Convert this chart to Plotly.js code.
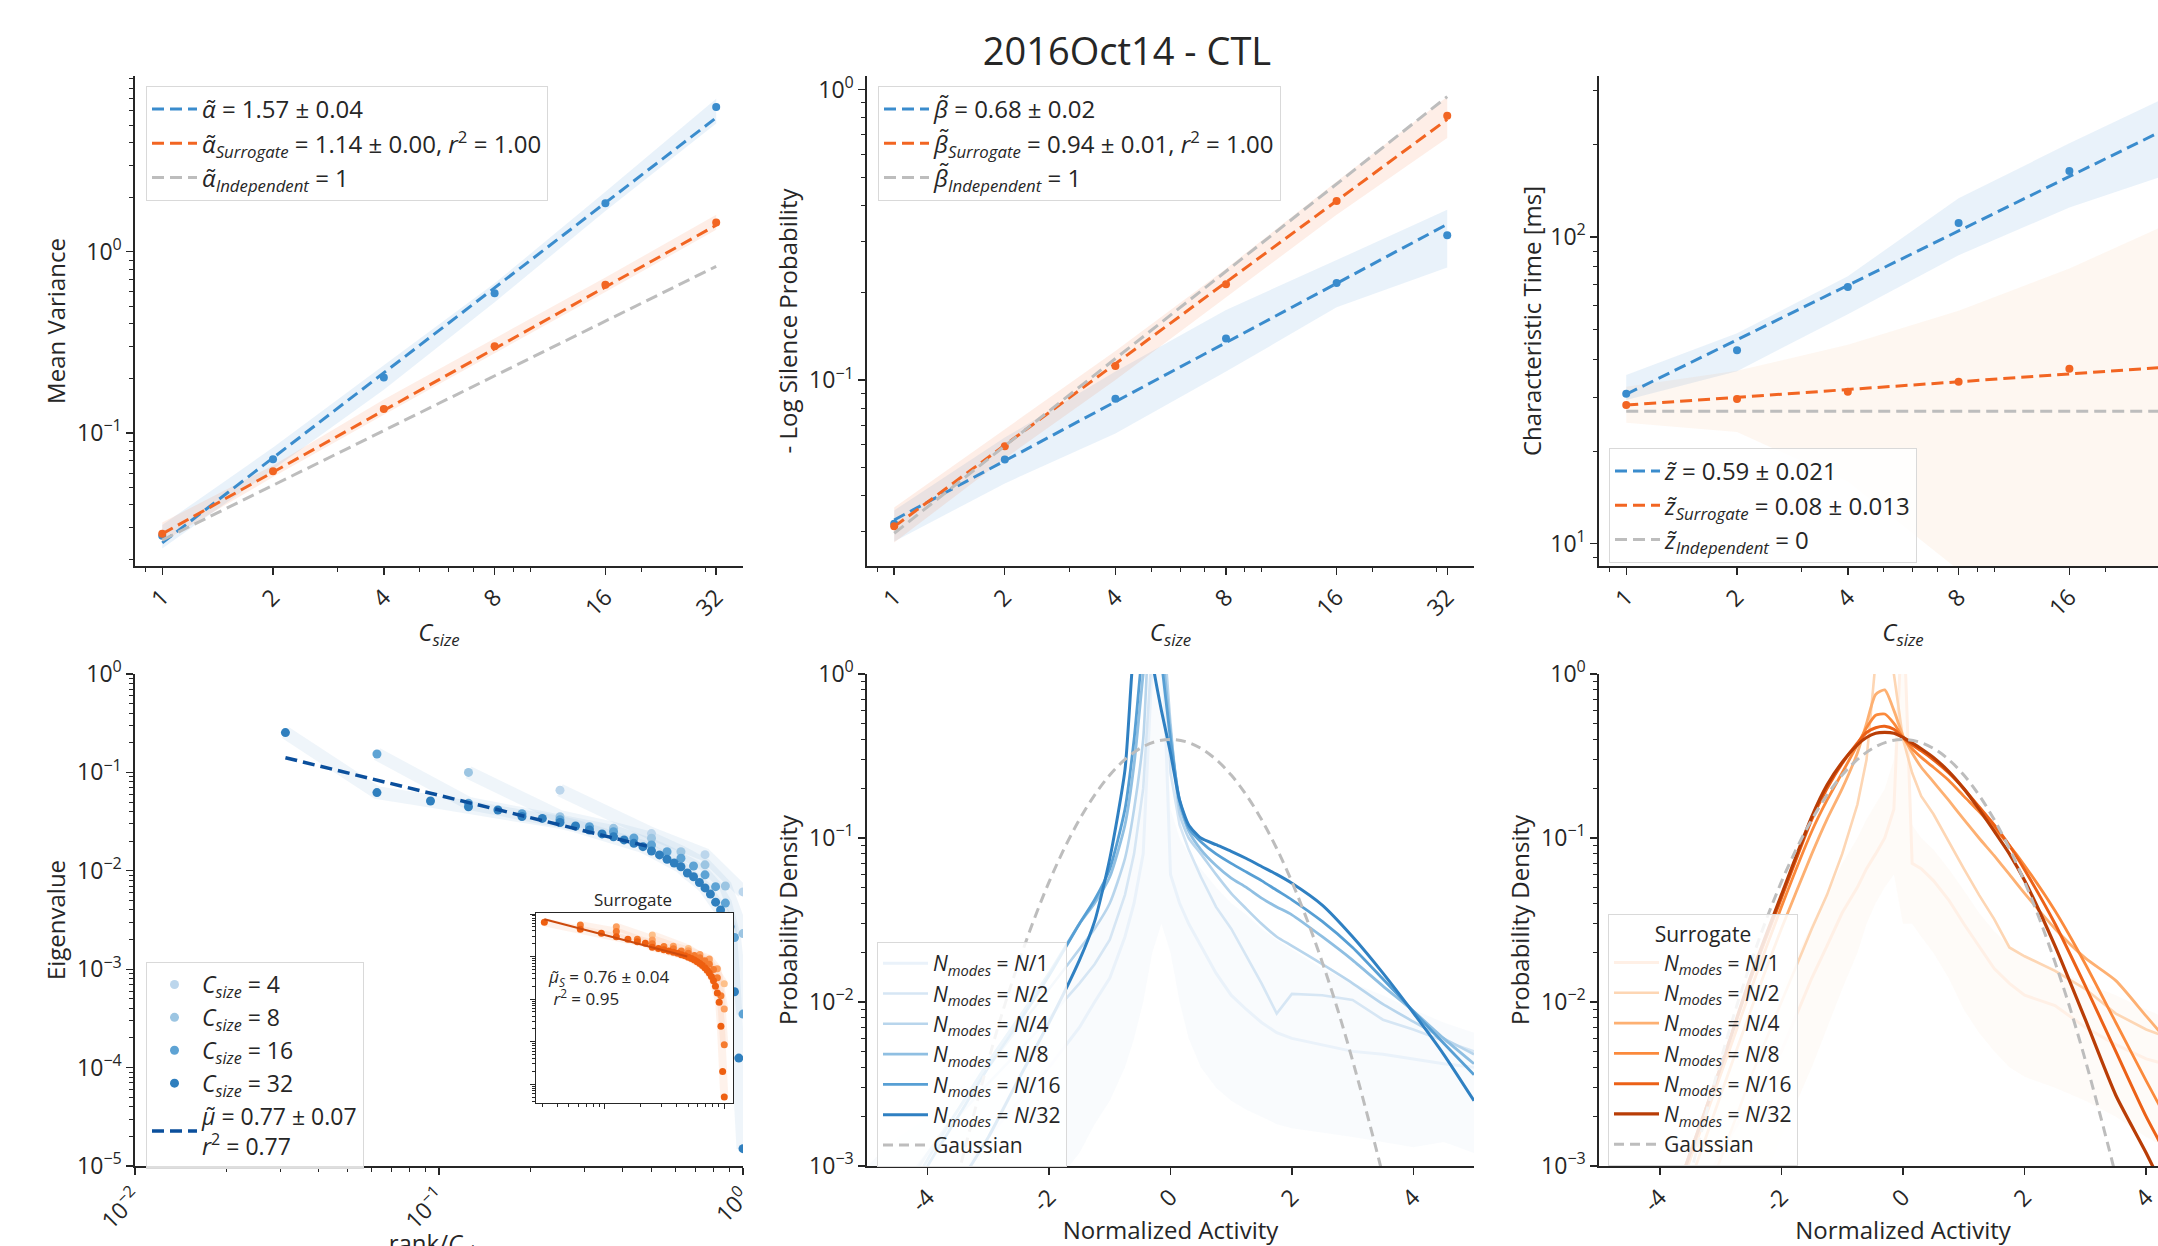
<!DOCTYPE html>
<html>
<head>
<meta charset="utf-8">
<script src="https://cdn.plot.ly/plotly-3.0.1.min.js"></script>
<style>
html,body{margin:0;padding:0;overflow:hidden;background:#fff;}
#chart{width:2210px;height:1262px;}
</style>
</head>
<body>
<div id="chart"></div>
<script>
// ---------------- DATA ----------------
const CSIZE = [1, 2, 4, 8, 16, 32];
const FIT_X = [1, 32];

// Panel 1 : mean variance
const varExp   = [0.027, 0.0716, 0.202, 0.590, 1.85, 6.29];
const varExpLo = [0.023, 0.0627, 0.173, 0.526, 1.68, 5.10];
const varExpHi = [0.031, 0.083, 0.236, 0.669, 2.14, 6.98];
const varSur   = [0.0277, 0.0614, 0.1356, 0.301, 0.657, 1.45];
const varSurLo = [0.025, 0.057, 0.126, 0.274, 0.600, 1.32];
const varSurHi = [0.032, 0.066, 0.153, 0.332, 0.720, 1.60];
const varFitExp = [0.0247, 5.49];
const varFitSur = [0.0277, 1.40];
const varFitInd = [0.0256, 0.83];

// Panel 2 : - log silence probability
const silExp   = [0.032, 0.0533, 0.0863, 0.139, 0.216, 0.315];
const silExpLo = [0.0278, 0.0441, 0.0655, 0.107, 0.178, 0.244];
const silExpHi = [0.0356, 0.0634, 0.107, 0.1745, 0.259, 0.386];
const silSur   = [0.0314, 0.0592, 0.1118, 0.214, 0.414, 0.813];
const silSurLo = [0.0276, 0.0537, 0.100, 0.193, 0.371, 0.681];
const silSurHi = [0.0364, 0.0676, 0.126, 0.242, 0.483, 0.946];
const silFitExp = [0.033, 0.344];
const silFitSur = [0.0313, 0.79];
const silFitInd = [0.0297, 0.946];

// Panel 3 : characteristic time [ms]
const tauExp   = [30.8, 42.7, 68.7, 111, 164, 245];
const tauExpLo = [29.4, 36.5, 56, 87.2, 124.7, 165];
const tauExpHi = [35.5, 48.5, 74.5, 133.8, 202, 300];
const tauSur   = [28.3, 29.6, 31.3, 33.7, 37.2, 38.5];
const tauSurLo = [24.8, 23.1, 15.9, 8.2, 0.01, 0.01];
const tauSurHi = [32.5, 36.6, 44.5, 57.5, 78.9, 115];
const tauFitExp = [30.7, 237];
const tauFitSur = [28.3, 37.9];
const tauFitInd = [27.0, 27.0];

// Panel 4 : eigenvalue spectra (index i -> rank i+1)
const eig4  = [0.066, 0.0239, 0.0146, 0.0061];
const eig8  = [0.1, 0.0355, 0.027, 0.0214, 0.0156, 0.0115, 0.0070, 0.0023];
const eig16 = [0.154, 0.0485, 0.038, 0.033, 0.028, 0.025, 0.0216, 0.0183, 0.0156, 0.0134, 0.0112, 0.0091, 0.0069, 0.0047, 0.0021, 0.00035];
const eig32 = [0.254, 0.0623, 0.0512, 0.0447, 0.0415, 0.0356, 0.0341, 0.031, 0.0285, 0.026, 0.0237, 0.0222, 0.0206, 0.019, 0.0176, 0.0159,
               0.0145, 0.0131, 0.012, 0.011, 0.0095, 0.0087, 0.0076, 0.0067, 0.0058, 0.0048, 0.004, 0.0034, 0.0027, 0.00059, 0.000125, 0.000015];
const eigFitX = [0.03125, 0.49];
const eigFitY = [0.141, 0.0176];

// Inset : surrogate eigenvalue spectra
const sur4  = [0.0322, 0.0155, 0.0076, 0.0023];
const sur8  = [0.050, 0.0246, 0.0175, 0.0138, 0.0112, 0.0088, 0.0052, 0.00059];
const sur16 = [0.055, 0.0386, 0.0255, 0.0200, 0.0172, 0.0152, 0.0135, 0.0120, 0.0106, 0.0094, 0.0080, 0.0066, 0.0050, 0.0032, 0.0012, 0.000085];
const sur32 = [0.064, 0.0438, 0.0352, 0.0294, 0.0255, 0.0224, 0.0205, 0.0166, 0.0155, 0.0145, 0.0136, 0.0127, 0.0119, 0.0111, 0.0104, 0.0097,
               0.0090, 0.0083, 0.0076, 0.0069, 0.0062, 0.0055, 0.0048, 0.0041, 0.0034, 0.0027, 0.0020, 0.0014, 0.00085, 0.00023, 0.00002, 0.000005];
const surFitX = [0.03125, 0.49];
const surFitY = [0.075, 0.010];

// Panels 5 & 6 : activity distributions
const ACT = [-5,-4.5,-4,-3.5,-3,-2.5,-2,-1.5,-1.25,-1,-0.75,-0.6,-0.45,-0.3,-0.15,0,0.15,0.3,0.5,0.75,1,1.25,1.5,1.75,2,2.5,3,3.5,4,4.5,5];
const b1   = [1e-4,2e-4,4e-4,8e-4,1.5e-3,2.5e-3,4e-3,7e-3,0.01,0.014,0.025,0.04,0.08,1.2,2.5,0.06,0.04,0.03,0.022,0.015,0.011,0.009,0.0075,0.0065,0.006,0.0055,0.005,0.0048,0.0045,0.0042,0.004];
const b1Lo = [1e-5,2e-5,5e-5,1e-4,2e-4,4e-4,7e-4,1.2e-3,1.8e-3,2.5e-3,4e-3,6e-3,0.01,0.02,0.03,0.02,0.01,0.006,0.004,0.003,0.0025,0.0022,0.002,0.0018,0.0017,0.0016,0.0015,0.0014,0.0013,0.0014,0.0012];
const b1Hi = [1e-3,1.5e-3,2e-3,3e-3,4.5e-3,7e-3,0.011,0.02,0.028,0.042,0.08,0.15,0.4,3,3,0.15,0.1,0.08,0.065,0.05,0.04,0.034,0.028,0.024,0.021,0.016,0.013,0.011,0.009,0.0075,0.0065];
const b2   = [4e-4,7e-4,1.2e-3,2e-3,3.2e-3,5e-3,8e-3,0.013,0.017,0.024,0.045,0.08,0.2,1.5,3.0,0.25,0.12,0.085,0.058,0.038,0.028,0.019,0.013,0.0085,0.0112,0.011,0.0103,0.0078,0.0068,0.0058,0.005];
const b4   = [3e-4,6e-4,1.2e-3,2.2e-3,4e-3,7e-3,0.012,0.021,0.028,0.04,0.075,0.15,0.4,2.5,2.0,0.5,0.14,0.1,0.08,0.06,0.046,0.037,0.03,0.025,0.022,0.017,0.013,0.0097,0.0076,0.006,0.0048];
const b8   = [2e-4,5e-4,1.1e-3,2.2e-3,4.3e-3,8e-3,0.015,0.03,0.04,0.058,0.12,0.28,1.0,3,1.5,0.45,0.16,0.11,0.085,0.068,0.057,0.05,0.043,0.038,0.034,0.025,0.018,0.0125,0.0088,0.006,0.0042];
const b16  = [1.5e-4,4e-4,1e-3,2e-3,4e-3,7.5e-3,0.0145,0.03,0.042,0.065,0.15,0.4,1.5,3,1.2,0.4,0.17,0.115,0.095,0.08,0.07,0.062,0.055,0.048,0.042,0.031,0.0215,0.0138,0.0088,0.0056,0.0036];
const b32  = [5e-5,1.2e-4,3.3e-4,7.5e-4,1.5e-3,3.4e-3,7.5e-3,0.018,0.031,0.075,0.26,1.5,3.0,1.2,0.6,0.33,0.17,0.12,0.1,0.091,0.083,0.075,0.067,0.06,0.053,0.039,0.025,0.015,0.0086,0.0048,0.0025];

const o1   = [1e-5,5e-5,2e-4,5e-4,1.2e-3,2.5e-3,0.005,0.014,0.022,0.035,0.05,0.065,0.08,0.1,0.15,3.0,0.07,0.065,0.055,0.042,0.03,0.022,0.016,0.013,0.011,0.0095,0.007,0.0055,0.0045,0.004,0.0035];
const o1Lo = [1e-6,5e-6,2e-5,5e-5,2e-4,5e-4,1.5e-3,4e-3,7e-3,0.012,0.02,0.03,0.04,0.05,0.06,0.03,0.03,0.025,0.02,0.014,0.009,0.0065,0.005,0.004,0.0035,0.003,0.0025,0.002,0.0015,0.0012,0.001];
const o1Hi = [5e-5,2e-4,6e-4,1.5e-3,3e-3,6e-3,0.012,0.03,0.045,0.07,0.1,0.13,0.16,0.2,0.3,3.0,0.12,0.1,0.085,0.065,0.048,0.035,0.027,0.022,0.019,0.016,0.013,0.011,0.009,0.0075,0.0065];
const o2   = [1e-5,5e-5,1.5e-4,4e-4,1.1e-3,3.5e-3,0.01,0.028,0.045,0.08,0.16,0.3,1.2,2.5,1.0,0.4,0.25,0.18,0.14,0.095,0.065,0.045,0.032,0.0215,0.019,0.0155,0.012,0.0085,0.0068,0.0058,0.005];
const o4   = [2e-5,7e-5,2.5e-4,8e-4,2.7e-3,9e-3,0.028,0.08,0.13,0.2,0.33,0.5,0.75,0.8,0.6,0.42,0.33,0.27,0.22,0.17,0.13,0.1,0.078,0.06,0.046,0.028,0.0185,0.0135,0.0082,0.005,0.003];
const o8   = [3e-5,1e-4,3.3e-4,1.1e-3,3.6e-3,0.012,0.038,0.11,0.17,0.25,0.37,0.47,0.56,0.57,0.5,0.41,0.35,0.31,0.27,0.225,0.18,0.145,0.115,0.09,0.068,0.036,0.017,0.0075,0.0033,0.0015,0.0007];
const o16  = [3e-5,1e-4,3.5e-4,1.2e-3,4e-3,0.014,0.043,0.13,0.2,0.285,0.38,0.44,0.47,0.48,0.46,0.41,0.37,0.34,0.3,0.25,0.2,0.155,0.12,0.09,0.064,0.03,0.0125,0.005,0.002,0.0009,0.0004];
const o32  = [3e-5,1e-4,3.5e-4,1.2e-3,4e-3,0.0145,0.045,0.135,0.21,0.29,0.37,0.41,0.435,0.44,0.435,0.41,0.38,0.35,0.31,0.255,0.2,0.15,0.11,0.08,0.055,0.022,0.0078,0.0027,0.0012,0.0005,0.00022];

const GX = [-3.75,-3.5,-3.25,-3,-2.75,-2.5,-2.25,-2,-1.75,-1.5,-1.25,-1,-0.75,-0.5,-0.25,0,0.25,0.5,0.75,1,1.25,1.5,1.75,2,2.25,2.5,2.75,3,3.25,3.5,3.75];
const GY = [0.00035,0.00087,0.0020,0.0044,0.0091,0.0175,0.0317,0.054,0.0863,0.1295,0.1826,0.242,0.3011,0.3521,0.3867,0.3989,0.3867,0.3521,0.3011,0.242,0.1826,0.1295,0.0863,0.054,0.0317,0.0175,0.0091,0.0044,0.0020,0.00087,0.00035];

const MODE_DIVS = [1, 2, 4, 8, 16, 32];
const ACT_TICKS = [-4, -2, 0, 2, 4];

// ---------------- STYLE / LAYOUT HELPERS ----------------
const W = 2210, H = 1262;
const PX = v => v / W;
const PY = v => 1 - v / H;
const FONT = "Open Sans, sans-serif";
const INK = '#262626';
const BLUE = '#3a8ccd', ORANGE = '#f26522', GRAY = '#bdbdbd';
const BLUE_BAND = 'rgba(58,140,205,0.11)', ORANGE_BAND = 'rgba(242,101,34,0.11)';

function pow10Label(k){ return '10<sup>' + (k < 0 ? '\u2212' + (-k) : k) + '</sup>'; }
function decades(k0, k1){ const v = [], t = []; for (let k = k0; k <= k1; k++){ v.push(Math.pow(10, k)); t.push(pow10Label(k)); } return {v, t}; }
function minorLog(k0, k1){ const v = []; for (let k = k0; k <= k1; k++) for (let m = 2; m <= 9; m++) v.push(m * Math.pow(10, k)); return v; }
function minorCfg(vals, len){ return {ticks:'outside', ticklen: len || 4, tickwidth:1, tickcolor:INK, tickmode:'array', tickvals: vals, showgrid:false}; }

function baseAxis(extra){
  return Object.assign({showline:true, linecolor:INK, linewidth:1.6, ticks:'outside', ticklen:7, tickwidth:1.4,
    tickcolor:INK, showgrid:false, zeroline:false, fixedrange:true,
    tickfont:{family:FONT, size:23, color:INK}}, extra);
}
function titleCfg(text, standoff){ return {text, standoff, font:{family:FONT, size:24, color:INK}}; }

function csizeAxis(domain, anchor){
  return baseAxis({type:'log', domain, anchor, range:[-0.074, 1.578], tickmode:'array',
    tickvals:CSIZE, ticktext:CSIZE.map(String), tickangle:-45,
    minor: minorCfg([0.9, 3, 5, 6, 7, 9, 10, 20, 30]),
    title: titleCfg('<i>C</i><sub><i>size</i></sub>', 3)});
}
function logYAxis(domain, anchor, range, k0, k1, title, standoff){
  const d = decades(k0, k1);
  return baseAxis({type:'log', domain, anchor, range, tickmode:'array', tickvals:d.v, ticktext:d.t,
    minor: minorCfg(minorLog(k0 - 1, k1)), title: titleCfg(title, standoff)});
}
function actAxis(domain, anchor){
  return baseAxis({type:'linear', domain, anchor, range:[-5, 5], tickmode:'array', tickvals:ACT_TICKS,
    ticktext:ACT_TICKS.map(String), tickangle:-45, title: titleCfg('Normalized Activity', 3)});
}

function legendCfg(xpx, ypx, size, gap, extra){
  return Object.assign({x:PX(xpx), y:PY(ypx), xanchor:'left', yanchor:'top', bgcolor:'rgba(255,255,255,0.85)',
    bordercolor:'#d9d9d9', borderwidth:1, font:{family:FONT, size:size, color:INK}, traceorder:'grouped',
    tracegroupgap:gap, itemwidth:45, itemclick:false, itemdoubleclick:false}, extra || {});
}

// ---------------- TRACES ----------------
const traces = [];
function band(xs, lo, hi, color, xa, ya){
  traces.push({x:xs, y:lo, xaxis:xa, yaxis:ya, mode:'lines', line:{width:0, color:color}, showlegend:false, hoverinfo:'skip'});
  traces.push({x:xs, y:hi, xaxis:xa, yaxis:ya, mode:'lines', line:{width:0, color:color}, fill:'tonexty', fillcolor:color, showlegend:false, hoverinfo:'skip'});
}
function dots(xs, ys, color, xa, ya){
  traces.push({x:xs, y:ys, xaxis:xa, yaxis:ya, mode:'markers', marker:{size:8, color:color}, showlegend:false, hoverinfo:'skip'});
}
function fit(xs, ys, color, name, xa, ya, leg){
  traces.push({x:xs, y:ys, xaxis:xa, yaxis:ya, mode:'lines', line:{color:color, width:3, dash:'12px,6px'},
    name:name, legend:leg, legendgroup:leg + name, showlegend:true, hoverinfo:'skip'});
}

function scalingPanel(xa, ya, leg, exp, expLo, expHi, sur, surLo, surHi, fExp, fSur, fInd, names, surBand){
  band(CSIZE, expLo, expHi, BLUE_BAND, xa, ya);
  band(CSIZE, surLo, surHi, surBand || ORANGE_BAND, xa, ya);
  dots(CSIZE, exp, BLUE, xa, ya);
  dots(CSIZE, sur, ORANGE, xa, ya);
  fit(FIT_X, fExp, BLUE, names[0], xa, ya, leg);
  fit(FIT_X, fSur, ORANGE, names[1], xa, ya, leg);
  fit(FIT_X, fInd, GRAY, names[2], xa, ya, leg);
}

scalingPanel('x', 'y', 'legend', varExp, varExpLo, varExpHi, varSur, varSurLo, varSurHi, varFitExp, varFitSur, varFitInd,
  ['<i>\u03b1\u0303</i> = 1.57 \u00b1 0.04',
   '<i>\u03b1\u0303</i><sub><i>Surrogate</i></sub> = 1.14 \u00b1 0.00, <i>r</i><sup>2</sup> = 1.00',
   '<i>\u03b1\u0303</i><sub><i>Independent</i></sub> = 1']);
scalingPanel('x2', 'y2', 'legend2', silExp, silExpLo, silExpHi, silSur, silSurLo, silSurHi, silFitExp, silFitSur, silFitInd,
  ['<i>\u03b2\u0303</i> = 0.68 \u00b1 0.02',
   '<i>\u03b2\u0303</i><sub><i>Surrogate</i></sub> = 0.94 \u00b1 0.01, <i>r</i><sup>2</sup> = 1.00',
   '<i>\u03b2\u0303</i><sub><i>Independent</i></sub> = 1']);
scalingPanel('x3', 'y3', 'legend3', tauExp, tauExpLo, tauExpHi, tauSur, tauSurLo, tauSurHi, tauFitExp, tauFitSur, tauFitInd,
  ['<i>z\u0303</i> = 0.59 \u00b1 0.021',
   '<i>z\u0303</i><sub><i>Surrogate</i></sub> = 0.08 \u00b1 0.013',
   '<i>z\u0303</i><sub><i>Independent</i></sub> = 0'], 'rgba(242,140,60,0.07)');

// Panel 4
const EIG_SETS = [[4, eig4, '#bcd6ec'], [8, eig8, '#9cc5e2'], [16, eig16, '#5ea3d4'], [32, eig32, '#2f7fbe']];
const rankX = (c, arr) => arr.map((_, i) => (i + 1) / c);
EIG_SETS.forEach(([c, arr, col]) => {
  traces.push({x:rankX(c, arr), y:arr, xaxis:'x4', yaxis:'y4', mode:'lines', line:{color:'rgba(120,170,215,0.12)', width:13},
    showlegend:false, hoverinfo:'skip'});
});
EIG_SETS.forEach(([c, arr, col]) => {
  traces.push({x:rankX(c, arr), y:arr, xaxis:'x4', yaxis:'y4', mode:'markers', marker:{size:9, color:col},
    name:'<i>C</i><sub><i>size</i></sub> = ' + c, legend:'legend4', legendgroup:'c' + c, hoverinfo:'skip'});
});
traces.push({x:eigFitX, y:eigFitY, xaxis:'x4', yaxis:'y4', mode:'lines', line:{color:'#0b4f9c', width:3.5, dash:'12px,6px'},
  name:'<i>\u03bc\u0303</i> = 0.77 \u00b1 0.07<br><i>r</i><sup>2</sup> = 0.77', legend:'legend4', legendgroup:'fit', hoverinfo:'skip'});

// Inset
const SUR_SETS = [[4, sur4, '#fdc08a'], [8, sur8, '#fca060'], [16, sur16, '#f57c30'], [32, sur32, '#ee5f10']];
SUR_SETS.forEach(([c, arr, col]) => {
  traces.push({x:rankX(c, arr), y:arr, xaxis:'x7', yaxis:'y7', mode:'lines', line:{color:'rgba(245,130,60,0.10)', width:8},
    showlegend:false, hoverinfo:'skip'});
});
SUR_SETS.forEach(([c, arr, col]) => {
  traces.push({x:rankX(c, arr), y:arr, xaxis:'x7', yaxis:'y7', mode:'markers', marker:{size:7, color:col},
    showlegend:false, hoverinfo:'skip'});
});
traces.push({x:surFitX, y:surFitY, xaxis:'x7', yaxis:'y7', mode:'lines', line:{color:'#cc4a0c', width:2},
  showlegend:false, hoverinfo:'skip'});

// Panels 5 & 6
function distPanel(xa, ya, leg, series, colors, bandLo, bandHi, bandColor, widths){
  band(ACT, bandLo, bandHi, bandColor, xa, ya);
  series.forEach((s, i) => {
    traces.push({x:ACT, y:s, xaxis:xa, yaxis:ya, mode:'lines',
      line:{color:colors[i], width:widths[i], shape: i < 2 ? 'linear' : 'spline', smoothing:0.6},
      name:'<i>N</i><sub><i>modes</i></sub> = <i>N</i>/' + MODE_DIVS[i],
      legend:leg, legendgroup:leg + i, hoverinfo:'skip'});
  });
  traces.push({x:GX, y:GY, xaxis:xa, yaxis:ya, mode:'lines', line:{color:GRAY, width:3, dash:'10px,6px', shape:'spline'},
    name:'Gaussian', legend:leg, legendgroup:leg + 'g', hoverinfo:'skip'});
}
distPanel('x5', 'y5', 'legend5', [b1, b2, b4, b8, b16, b32],
  ['#eaf2fa', '#d6e6f4', '#b8d5ec', '#8fbfe2', '#579fd4', '#2f80c2'], b1Lo, b1Hi, 'rgba(205,222,242,0.13)', [3, 2.6, 2.6, 2.8, 2.8, 3]);
distPanel('x6', 'y6', 'legend6', [o1, o2, o4, o8, o16, o32],
  ['#fff0e6', '#fdd6b4', '#fdb072', '#fb8a3c', '#ec6117', '#b93d06'], o1Lo, o1Hi, 'rgba(250,215,190,0.10)', [3, 2.6, 2.8, 2.8, 3, 3.2]);

// ---------------- LAYOUT ----------------
const xd1 = [PX(135), PX(743)], xd2 = [PX(867), PX(1474)], xd3 = [PX(1599), PX(2207)];
const ydTop = [PY(566), PY(76)], ydBot = [PY(1166), PY(674)];

const d4x = decades(-2, 0);
const layout = {
  width: W, height: H, margin:{l:0, r:0, t:0, b:0, autoexpand:false},
  paper_bgcolor:'#fff', plot_bgcolor:'#fff',
  font:{family:FONT, color:INK},
  title:{text:'2016Oct14 - CTL', x:PX(1127), y:PY(52), xanchor:'center', yanchor:'middle', xref:'paper', yref:'paper',
    font:{family:FONT, size:38, color:INK}},
  xaxis: csizeAxis(xd1, 'y'),
  yaxis: logYAxis(ydTop, 'x', [-1.735, 0.97], -1, 0, 'Mean Variance', 4),
  xaxis2: csizeAxis(xd2, 'y2'),
  yaxis2: logYAxis(ydTop, 'x2', [-1.64, 0.047], -1, 0, '- Log Silence Probability', 4),
  xaxis3: csizeAxis(xd3, 'y3'),
  yaxis3: logYAxis(ydTop, 'x3', [0.927, 2.525], 1, 2, 'Characteristic Time [ms]', 2),
  xaxis4: baseAxis({type:'log', domain:xd1, anchor:'y4', range:[-2, 0], tickmode:'array', tickvals:d4x.v, ticktext:d4x.t,
    tickangle:-45, minor:minorCfg(minorLog(-2, -1)), title:titleCfg('rank/<i>C</i><sub><i>size</i></sub>', 6)}),
  yaxis4: logYAxis(ydBot, 'x4', [-5, 0], -5, 0, 'Eigenvalue', 4),
  xaxis5: actAxis(xd2, 'y5'),
  yaxis5: logYAxis(ydBot, 'x5', [-3, 0], -3, 0, 'Probability Density', 4),
  xaxis6: actAxis(xd3, 'y6'),
  yaxis6: logYAxis(ydBot, 'x6', [-3, 0], -3, 0, 'Probability Density', 4),
  xaxis7: baseAxis({type:'log', domain:[PX(536), PX(733)], anchor:'y7', range:[-1.575, 0.073], tickmode:'array',
    tickvals:[0.1, 1], showticklabels:false, ticklen:5, tickwidth:1, linewidth:1.2, mirror:true,
    minor:minorCfg(minorLog(-2, -1), 3)}),
  yaxis7: baseAxis({type:'log', domain:[PY(1103), PY(913)], anchor:'x7', range:[-5.44, -0.976], tickmode:'array',
    tickvals:[1e-5, 1e-4, 1e-3, 1e-2, 1e-1], showticklabels:false, ticklen:5, tickwidth:1, linewidth:1.2, mirror:true,
    minor:minorCfg(minorLog(-6, -1), 3)}),
  legend:  legendCfg(146, 86, 24, 0),
  legend2: legendCfg(878, 86, 24, 0),
  legend3: legendCfg(1609, 448, 24, 0),
  legend4: legendCfg(146, 962, 23, 0),
  legend5: legendCfg(877, 942, 21, 0),
  legend6: legendCfg(1608, 914, 21, 0, {title:{text:'Surrogate', side:'top center', font:{family:FONT, size:21, color:INK}}}),
  annotations: [
    {text:'Surrogate', xref:'paper', yref:'paper', x:PX(633), y:PY(899), xanchor:'center', yanchor:'middle', showarrow:false,
     font:{family:FONT, size:17, color:INK}},
    {text:'<i>\u03bc\u0303</i><sub><i>S</i></sub> = 0.76 \u00b1 0.04<br> <i>r</i><sup>2</sup> = 0.95', xref:'paper', yref:'paper',
     x:PX(546), y:PY(987), xanchor:'left', yanchor:'middle', align:'left', showarrow:false, font:{family:FONT, size:17, color:INK}}
  ]
};

Plotly.newPlot('chart', traces, layout, {displayModeBar:false, staticPlot:true});
</script>
</body>
</html>
